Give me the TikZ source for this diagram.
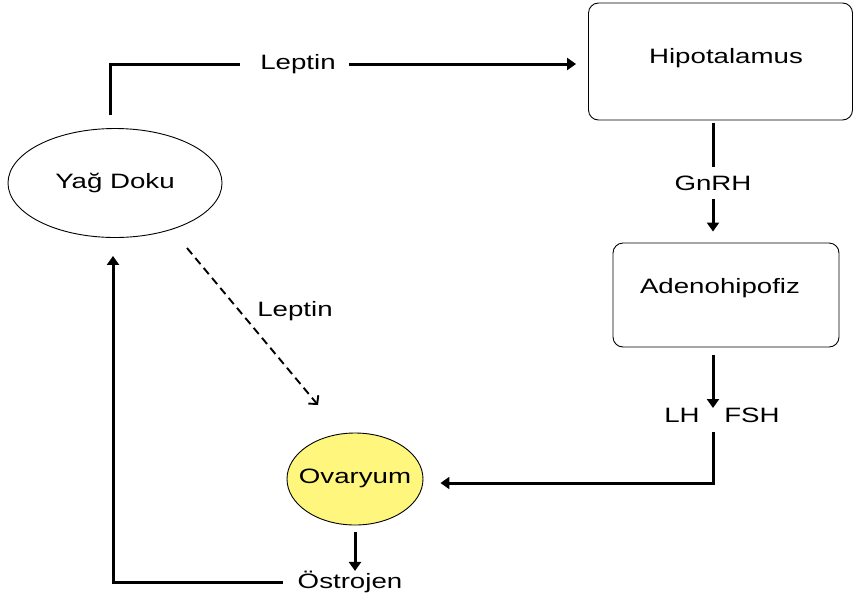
\documentclass[tikz,border=0pt]{standalone}
\usepackage{fontspec}
\setmainfont{Liberation Sans}[FakeStretch=1.33]
\usetikzlibrary{arrows.meta,shapes.geometric}

\definecolor{ovaryfill}{RGB}{255,247,125}

\tikzset{
  organ/.style={ellipse, draw=black, line width=0.9pt, inner sep=0pt},
  gland/.style={rectangle, rounded corners=10pt, draw=black, line width=0.9pt, inner sep=0pt},
  lbl/.style={inner sep=0pt, font=\fontsize{20.8}{24}\selectfont},
  conn/.style={line width=3pt},
  flow/.style={conn, -{Triangle[width=12pt,length=9pt]}},
  weakflow/.style={line width=1.9pt, dash pattern=on 8pt off 5pt,
                   -{Straight Barb[width=13pt,length=6pt,line width=1.9pt]}}
}

\begin{document}
\begin{tikzpicture}[x=1pt,y=-1pt]
  \useasboundingbox (0,0) rectangle (854,598);

  % organs and glands
  \node[organ, minimum width=214pt, minimum height=109pt] (yag) at (115,183) {};
  \node[lbl] (yagText) at (115,183) {Yağ Doku};

  \node[gland, minimum width=264pt, minimum height=117pt] (hipo) at (720.5,61.5) {};
  \node[lbl] (hipoText) at (726,58) {Hipotalamus};

  \node[gland, minimum width=226pt, minimum height=104pt] (adeno) at (726,295) {};
  \node[lbl] (adenoText) at (720,288) {Adenohipofiz};

  \node[organ, fill=ovaryfill, minimum width=136pt, minimum height=92pt] (ovary) at (355,479) {};
  \node[lbl] (ovaryText) at (355,478) {Ovaryum};

  % hormone labels
  \node[lbl] (leptinA) at (298,64) {Leptin};
  \node[lbl] (leptinB) at (295,311) {Leptin};
  \node[lbl, minimum height=32pt] (gnrh) at (713,183) {GnRH};
  \node[lbl] (lh) at (682,415) {LH};
  \node[lbl] (fsh) at (752,415) {FSH};
  \node[lbl, minimum height=20pt] (ostro) at (350,582) {Östrojen};

  % routing points
  \coordinate (yagTop) at (110,115);
  \coordinate (hubTop) at (713,408);
  \coordinate (hubBot) at (713,432);
  \coordinate (feedX) at (113,582);
  \coordinate (dashStart) at (187,248);
  \coordinate (dashEnd) at (318,405);

  % adipose tissue -> hypothalamus
  \draw[conn] (yagTop) |- ([xshift=-20pt]leptinA.west);
  \draw[flow] ([xshift=13pt]leptinA.east) -- ([xshift=-12pt]hipo.west |- leptinA);

  % hypothalamus -> adenohypophysis
  \draw[conn, shorten <=3pt] (hipo.south -| gnrh) -- (gnrh.north);
  \draw[flow, shorten >=11pt] (gnrh.south) -- (adeno.north -| gnrh);

  % adenohypophysis -> ovary
  \draw[flow, shorten <=8pt] (adeno.south -| hubTop) -- (hubTop);
  \draw[flow] (hubBot) |- ([xshift=17pt,yshift=-4pt]ovary.east);

  % ovary -> oestrogen -> adipose tissue
  \draw[flow, shorten <=7pt] (ovary.south) -- (ovary.south |- ostro.north);
  \draw[flow] ([xshift=-15pt]ostro.west) -| ([yshift=-18pt]yag.south -| feedX);

  % direct leptin effect on ovary
  \draw[weakflow] (dashStart) -- (dashEnd);
\end{tikzpicture}
\end{document}
